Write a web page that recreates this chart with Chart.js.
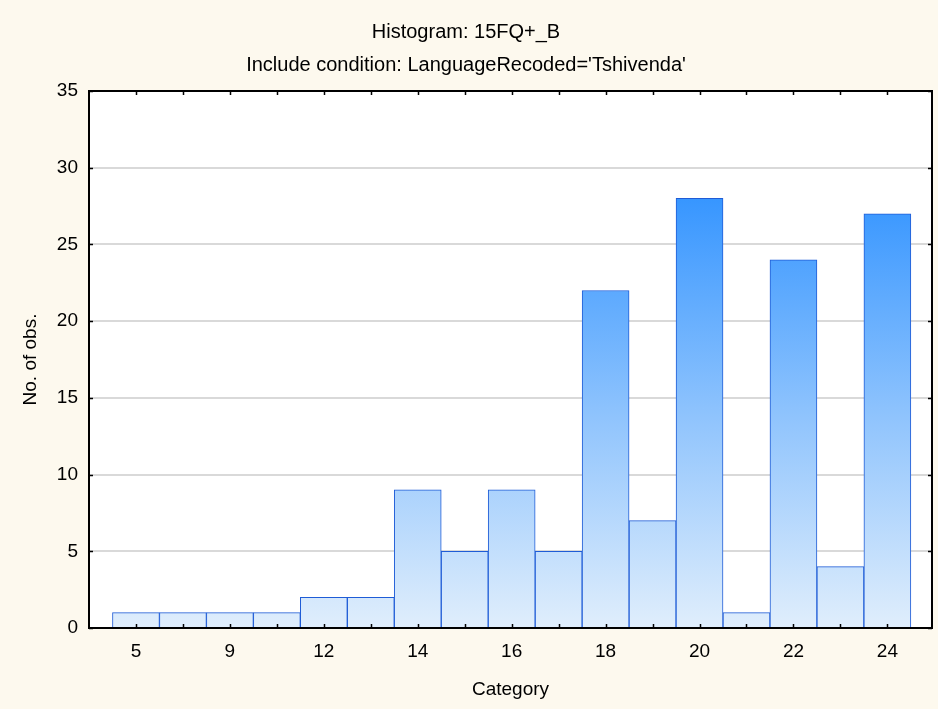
<!DOCTYPE html>
<html>
<head>
<meta charset="utf-8">
<script src="https://cdn.jsdelivr.net/npm/chart.js@4"></script>
<style>
  html, body { margin: 0; padding: 0; background: #fdf9ee; }
  #wrap { width: 938px; height: 709px; }
</style>
</head>
<body>
<div id="wrap"><canvas id="histo"></canvas></div>
<script>
// bins (only every second one is labelled on the axis)
const categories = ['5','7','9','10','12','13','14','15','16','17','18','19','20','21','22','23','24'];
const counts     = [1, 1, 1, 1, 2, 2, 9, 5, 9, 5, 22, 7, 28, 1, 24, 4, 27];
const yTicks     = [0, 5, 10, 15, 20, 25, 30, 35];
const titleLines = ['Histogram: 15FQ+_B', "Include condition: LanguageRecoded='Tshivenda'"];

const FONT = "'Liberation Sans', Arial, sans-serif";

// cream page + white plot area
const backdrop = {
  id: 'backdrop',
  beforeDraw(chart) {
    const { ctx, chartArea: a } = chart;
    ctx.save();
    ctx.fillStyle = '#fdf9ee';
    ctx.fillRect(0, 0, chart.width, chart.height);
    ctx.fillStyle = '#ffffff';
    ctx.fillRect(a.left, a.top, a.right - a.left, a.bottom - a.top);
    ctx.restore();
  }
};

// frame round the plot with inward tick marks on all four sides
const frame = {
  id: 'frame',
  afterDraw(chart) {
    const { ctx, chartArea: a, scales } = chart;
    ctx.save();
    ctx.strokeStyle = '#000';
    ctx.lineWidth = 1.5;
    ctx.beginPath();
    scales.x.ticks.forEach(t => {
      const px = Math.round(scales.x.getPixelForValue(t.value)) + 0.5;
      ctx.moveTo(px, a.bottom); ctx.lineTo(px, a.bottom - 4);
      ctx.moveTo(px, a.top); ctx.lineTo(px, a.top + 4);
    });
    scales.y.ticks.forEach(t => {
      const py = Math.round(scales.y.getPixelForValue(t.value)) + 0.5;
      ctx.moveTo(a.left, py); ctx.lineTo(a.left + 4, py);
      ctx.moveTo(a.right, py); ctx.lineTo(a.right - 4, py);
    });
    ctx.stroke();
    ctx.lineWidth = 2;
    ctx.strokeRect(a.left, a.top, a.right - a.left, a.bottom - a.top);
    ctx.restore();
  }
};

function barFill(c) {
  const chart = c.chart;
  if (!chart.chartArea) return '#8fc4fd';
  const y = chart.scales.y;
  const g = chart.ctx.createLinearGradient(0, y.getPixelForValue(0), 0, y.getPixelForValue(28));
  g.addColorStop(0, '#e0eefc');
  g.addColorStop(0.5, '#8ec3fd');
  g.addColorStop(1, '#3796ff');
  return g;
}

document.addEventListener('DOMContentLoaded', () => {
  const ctx = document.getElementById('histo').getContext('2d');
  new Chart(ctx, {
    type: 'bar',
    data: {
      datasets: [{
        data: counts.map((v, i) => ({ x: i, y: v })),
        backgroundColor: barFill,
        borderColor: '#1f5cd6',
        borderWidth: 1,
        borderSkipped: 'bottom',
        barPercentage: 1,
        categoryPercentage: 1
      }]
    },
    options: {
      responsive: true,
      maintainAspectRatio: false,
      animation: false,
      layout: { padding: { left: 0, right: 6, top: 0, bottom: 0 } },
      plugins: {
        legend: { display: false },
        tooltip: { enabled: false },
        title: {
          display: true,
          text: titleLines,
          color: '#000',
          font: { family: FONT, size: 20, weight: 'normal', lineHeight: '33px' },
          padding: { top: 15.5, bottom: 9.5 }
        }
      },
      scales: {
        x: {
          type: 'linear',
          min: -1,
          max: categories.length - 0.05,
          offset: false,
          afterBuildTicks: s => { s.ticks = categories.map((c, i) => ({ value: i })); },
          afterFit: s => { s.height = 81; },
          grid: { display: false, drawTicks: false },
          border: { display: false },
          ticks: {
            autoSkip: false,
            maxRotation: 0,
            padding: 12,
            color: '#000',
            font: { family: FONT, size: 19 },
            callback: v => (v % 2 === 0 ? categories[v] : '')
          },
          title: {
            display: true,
            text: 'Category',
            color: '#000',
            font: { family: FONT, size: 19 },
            padding: { top: 0, bottom: 8 }
          }
        },
        y: {
          min: 0,
          max: 35,
          afterBuildTicks: s => { s.ticks = yTicks.map(v => ({ value: v })); },
          afterFit: s => { s.width = 89; },
          grid: {
            drawTicks: false,
            lineWidth: 2,
            color: c => (c.tick.value === 0 || c.tick.value === 35 ? 'rgba(0,0,0,0)' : '#d9d9d9')
          },
          border: { display: false },
          ticks: {
            padding: 11,
            color: '#000',
            font: { family: FONT, size: 19 }
          },
          title: {
            display: true,
            text: 'No. of obs.',
            color: '#000',
            font: { family: FONT, size: 19 },
            padding: { top: 19, bottom: 0 }
          }
        }
      }
    },
    plugins: [backdrop, frame]
  });
});
</script>
</body>
</html>
